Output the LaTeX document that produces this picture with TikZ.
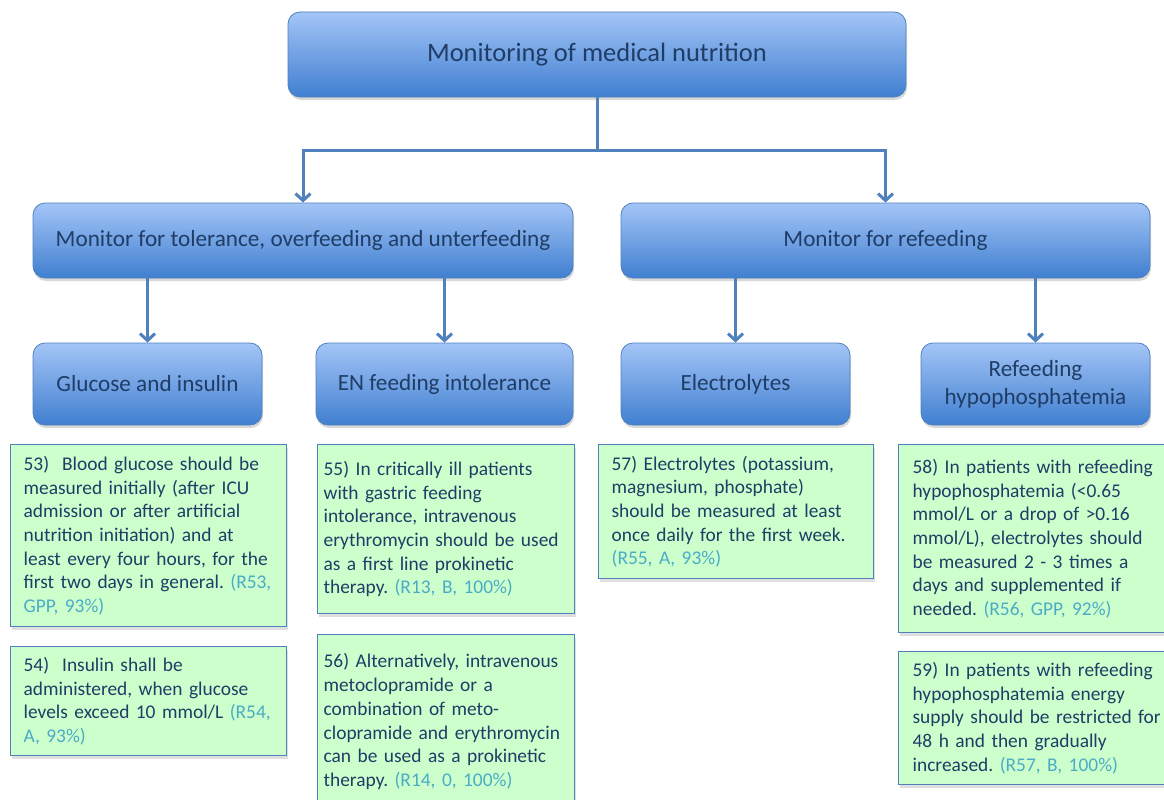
\documentclass[tikz,border=0pt]{standalone}
\usepackage{fontspec}
\setmainfont{Carlito}
\usepackage{tikz}
\usepackage{xcolor}
\usetikzlibrary{shapes,arrows.meta,positioning,shadows}

\definecolor{lineblue}{HTML}{4F81BD}
\definecolor{boxtop}{HTML}{A3C5F7}
\definecolor{boxbot}{HTML}{407FD0}
\definecolor{navy}{HTML}{1F3D66}
\definecolor{mint}{HTML}{CCFFCC}
\definecolor{refcol}{HTML}{4BACC6}
\newcommand{\rf}[1]{\textcolor{refcol}{#1}}
\frenchspacing

\begin{document}
\begin{tikzpicture}[
    x = 1pt, y = -1pt,
    every node/.style = {align=center, text=navy},
    head/.style = {rectangle, rounded corners=12pt, draw=lineblue, line width=0.8pt,
      top color=boxtop, bottom color=boxbot,
      drop shadow={shadow xshift=1pt, shadow yshift=-3pt, opacity=0.3},
      font=\fontsize{23.2}{28}\selectfont},
    note/.style = {rectangle, anchor=north west, draw=lineblue, line width=1.3pt,
      fill=mint, align=left, inner ysep=0pt,
      drop shadow={shadow xshift=1pt, shadow yshift=-3pt, opacity=0.25},
      font=\fontsize{19.4}{23.7}\selectfont\frenchspacing},
    link/.style = {draw=lineblue, line width=3pt, -{Straight Barb[length=7pt,width=15pt]}},
    stem/.style = {draw=lineblue, line width=3pt}
  ]

  \useasboundingbox (0,0) rectangle (1164,800);
  \fill[white] (0,0) rectangle (1164,800);

  \node (Mon) [head, minimum width=618pt, minimum height=85pt,
    font=\fontsize{26.5}{30}\selectfont] at (597,54.5) {Monitoring of medical nutrition};

  \node (Tol) [head, minimum width=540pt, minimum height=75pt] at (303,240.5)
    {Monitor for tolerance, overfeeding and unterfeeding};
  \node (Ref) [head, minimum width=529pt, minimum height=75pt] at (885.5,240.5)
    {Monitor for refeeding};

  \node (Glu) [head, minimum width=229pt, minimum height=82pt] at (147.5,384) {Glucose and insulin};
  \node (Int) [head, minimum width=257pt, minimum height=82pt] at (444.5,384) {EN feeding intolerance};
  \node (Ele) [head, minimum width=229pt, minimum height=82pt] at (735.5,384) {Electrolytes};
  \node (Hyp) [head, minimum width=229pt, minimum height=82pt] at (1035.5,384) {Refeeding\\hypophosphatemia};

  \node (R53) [note, text width=250pt, inner xsep=13pt, minimum height=182pt] at (10,444)
    {53)\ \ Blood glucose should be\\ measured initially (after ICU\\ admission or after artificial\\
     nutrition initiation) and at\\ least every four hours, for the\\ first two days in general. \rf{(R53,}\\
     \rf{GPP, 93\%)}};
  \node (R54) [note, text width=250pt, inner xsep=13pt, minimum height=109pt] at (10,646)
    {54)\ \ Insulin shall be\\ administered, when glucose\\ levels exceed 10 mmol/L \rf{(R54,}\\
     \rf{A, 93\%)}};
  \node (R55) [note, text width=245pt, inner xsep=6pt, minimum height=169pt] at (317,444)
    {55) In critically ill patients\\ with gastric feeding\\ intolerance, intravenous\\
     erythromycin should be used\\ as a first line prokinetic\\ therapy. \rf{(R13, B, 100\%)}};
  \node (R56) [note, text width=245pt, inner xsep=6pt, minimum height=174pt] at (317,634)
    {56) Alternatively, intravenous\\ metoclopramide or a\\ combination of meto-\\
     clopramide and erythromycin\\ can be used as a prokinetic\\ therapy. \rf{(R14, 0, 100\%)}};
  \node (R57) [note, text width=249pt, inner xsep=13pt, minimum height=134pt] at (598,444)
    {57) Electrolytes (potassium,\\ magnesium, phosphate)\\ should be measured at least\\
     once daily for the first week.\\ \rf{(R55, A, 93\%)}};
  \node (R58) [note, text width=249pt, inner xsep=14pt, minimum height=188pt] at (898,444)
    {58) In patients with refeeding\\ hypophosphatemia (<0.65\\ mmol/L or a drop of >0.16\\
     mmol/L), electrolytes should\\ be measured 2 - 3 times a\\ days and supplemented if\\
     needed. \rf{(R56, GPP, 92\%)}};
  \node (R59) [note, text width=249pt, inner xsep=14pt, minimum height=133pt] at (898,651)
    {59) In patients with refeeding\\ hypophosphatemia energy\\ supply should be restricted for\\
     48 h and then gradually\\ increased. \rf{(R57, B, 100\%)}};

  \coordinate (J) at (597,150);
  \draw[stem] (Mon.south) -- (J);
  \draw[link] (J) -| (Tol.north);
  \draw[link] (J) -| (Ref.north);

  \draw[link] (Glu.north |- Tol.south) -- (Glu.north);
  \draw[link] (Int.north |- Tol.south) -- (Int.north);
  \draw[link] (Ele.north |- Ref.south) -- (Ele.north);
  \draw[link] (Hyp.north |- Ref.south) -- (Hyp.north);

\end{tikzpicture}
\end{document}
